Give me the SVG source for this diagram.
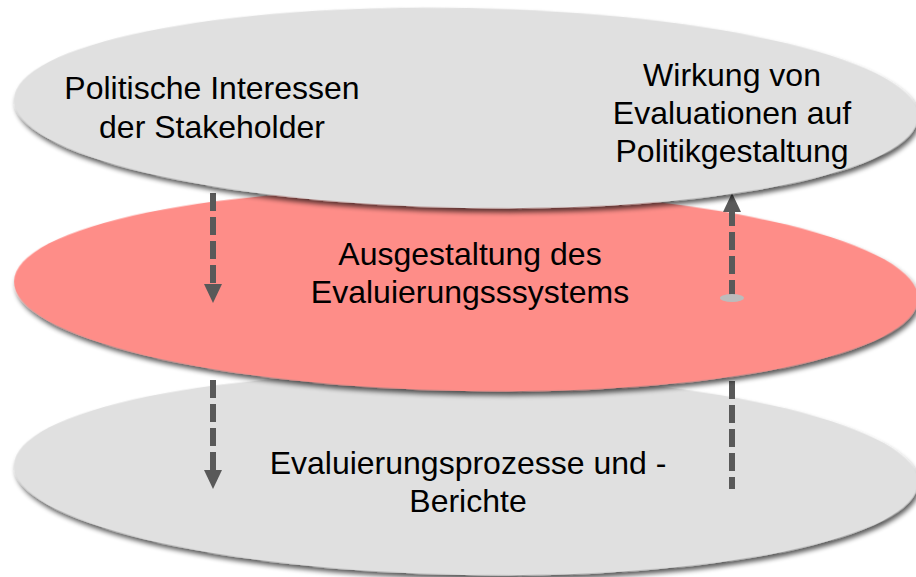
<svg xmlns="http://www.w3.org/2000/svg" width="916" height="577" viewBox="0 0 916 577">
<style>
.lbl{font-family:"Liberation Sans",Arial,sans-serif;font-size:32px;fill:#000;text-anchor:middle}
.gray{fill:#e0e0e0}
.red{fill:#fe8d88}
.conn{stroke:#595959;stroke-width:6;stroke-dasharray:18 6;fill:none}
</style>
<defs>
<filter id="sh" x="-5%" y="-10%" width="110%" height="130%">
<feGaussianBlur in="SourceAlpha" stdDeviation="2.5"/>
<feOffset dx="2" dy="4" result="b"/>
<feComponentTransfer><feFuncA type="linear" slope="0.65"/></feComponentTransfer>
<feMerge><feMergeNode/><feMergeNode in="SourceGraphic"/></feMerge>
</filter>
<marker id="ah" viewBox="0 0 19 18" markerUnits="userSpaceOnUse" markerWidth="19" markerHeight="18" refX="0" refY="9" orient="auto">
<path d="M0,0 L19,9 L0,18 z" fill="#595959"/>
</marker>
<marker id="oval" viewBox="-13 -5 26 10" markerUnits="userSpaceOnUse" markerWidth="26" markerHeight="10" refX="0" refY="0" orient="0">
<ellipse cx="0" cy="0" rx="12" ry="4" fill="#bcbcbc"/>
</marker>
</defs>
<g id="bottom-layer">
<ellipse class="gray" cx="466" cy="474" rx="452" ry="101" transform="rotate(1.1 466 474)" filter="url(#sh)"/>
<text class="lbl" x="468" y="474">Evaluierungsprozesse und -</text>
<text class="lbl" x="468" y="512">Berichte</text>
</g>
<g id="connectors-lower">
<line class="conn" x1="213" y1="380" x2="213" y2="470" marker-end="url(#ah)"/>
<line class="conn" x1="732" y1="381" x2="732" y2="489"/>
</g>
<g id="middle-layer">
<ellipse class="red" cx="466" cy="290" rx="452" ry="101" transform="rotate(1.1 466 290)" filter="url(#sh)"/>
<text class="lbl" x="470" y="265">Ausgestaltung des</text>
<text class="lbl" x="470" y="303">Evaluierungsssystems</text>
</g>
<g id="connectors">
<line class="conn" x1="213" y1="193" x2="213" y2="284" marker-end="url(#ah)"/>
<line class="conn" x1="732" y1="298" x2="732" y2="212" marker-start="url(#oval)" marker-end="url(#ah)"/>
</g>
<g id="top-layer">
<ellipse class="gray" cx="466" cy="108" rx="452" ry="100" transform="rotate(1.1 466 108)" filter="url(#sh)"/>
<text class="lbl" x="212" y="99">Politische Interessen</text>
<text class="lbl" x="212" y="138">der Stakeholder</text>
<text class="lbl" x="732" y="86">Wirkung von</text>
<text class="lbl" x="732" y="124">Evaluationen auf</text>
<text class="lbl" x="732" y="162">Politikgestaltung</text>
</g>
</svg>
